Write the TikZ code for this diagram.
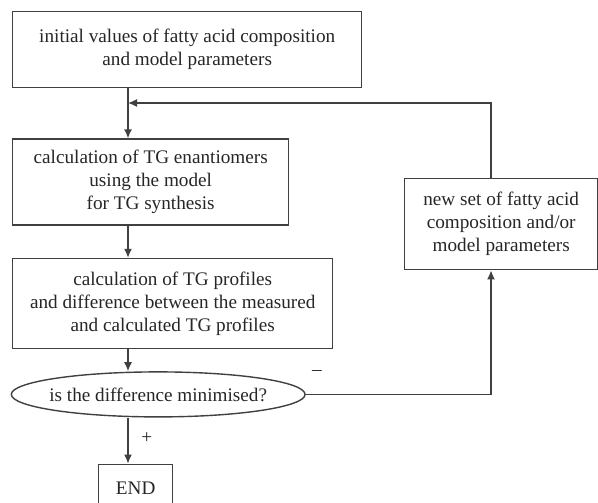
\documentclass[tikz,border=0pt]{standalone}
\usepackage{fontspec}
\setmainfont{Liberation Serif}
\usepackage{tikz}
\usetikzlibrary{positioning, shapes.geometric, calc, arrows.meta}
\tikzset{
    x=0.5pt, y=-0.5pt, % one unit is one pixel of the sketch
    every node/.style={
        font=\fontsize{9.6}{11.5}\selectfont,
        text=black!85
    },
    stepbox/.style={ % Sets the properties for each process box
        draw=black!75,
        line width=0.7pt,
        align=center,
        inner sep=0pt
    },
    testbox/.style={ % The decision
        ellipse,
        draw=black!75,
        line width=0.7pt,
        inner xsep=-2.5pt,
        inner ysep=4pt
    },
    flow/.style={ % Sets the properties for each connector
        draw=black!75,
        line width=0.7pt,
        ->,>={Latex[length=4.5pt,width=4pt]}
    }
}

\begin{document}
\begin{tikzpicture}
            \clip (0,0) rectangle (598,502);
            \node[stepbox, minimum width=174.5pt, minimum height=38pt, anchor=north west] (init) at (12,11)
                {initial values of fatty acid composition\\and model parameters};
            \node[stepbox, minimum width=138pt, minimum height=43pt, below right=25pt and 0pt of init.south west] (enan)
                {calculation of TG enantiomers\\using the model\\for TG synthesis};
            \node[stepbox, minimum width=160pt, minimum height=45pt, below right=16pt and 0pt of enan.south west] (prof)
                {calculation of TG profiles\\and difference between the measured\\and calculated TG profiles};
            \node[testbox, minimum width=145.5pt, minimum height=22.5pt, below=11pt of prof.south, xshift=-7.25pt] (mini)
                {is the difference minimised?};
            \node[stepbox, minimum width=37pt, minimum height=24pt, below=23pt of mini.south, xshift=-11.25pt] (done) {END};
            \node[stepbox, minimum width=96.5pt, minimum height=45.5pt, anchor=north west] (newset) at (404,178)
                {new set of fatty acid\\composition and/or\\model parameters};
            \coordinate (spine) at (128,0);
            \coordinate (turn) at (491,103);
            \draw[flow] (init.south -| spine) -- (enan.north -| spine);
            \draw[flow] (enan.south -| spine) -- (prof.north -| spine);
            \draw[flow] (prof.south -| spine) -- (mini.north -| spine);
            \draw[flow] (mini.south -| spine) -- node[right=3pt, pos=0.45]{+} (done.north -| spine);
            \draw[flow] (mini.east) -- (mini.east -| turn) -- (newset.south -| turn);
            \draw[flow] (newset.north -| turn) -- (turn) -- (turn -| spine);
            \node (minus) at (317,373) {--};
        \end{tikzpicture}
\end{document}
